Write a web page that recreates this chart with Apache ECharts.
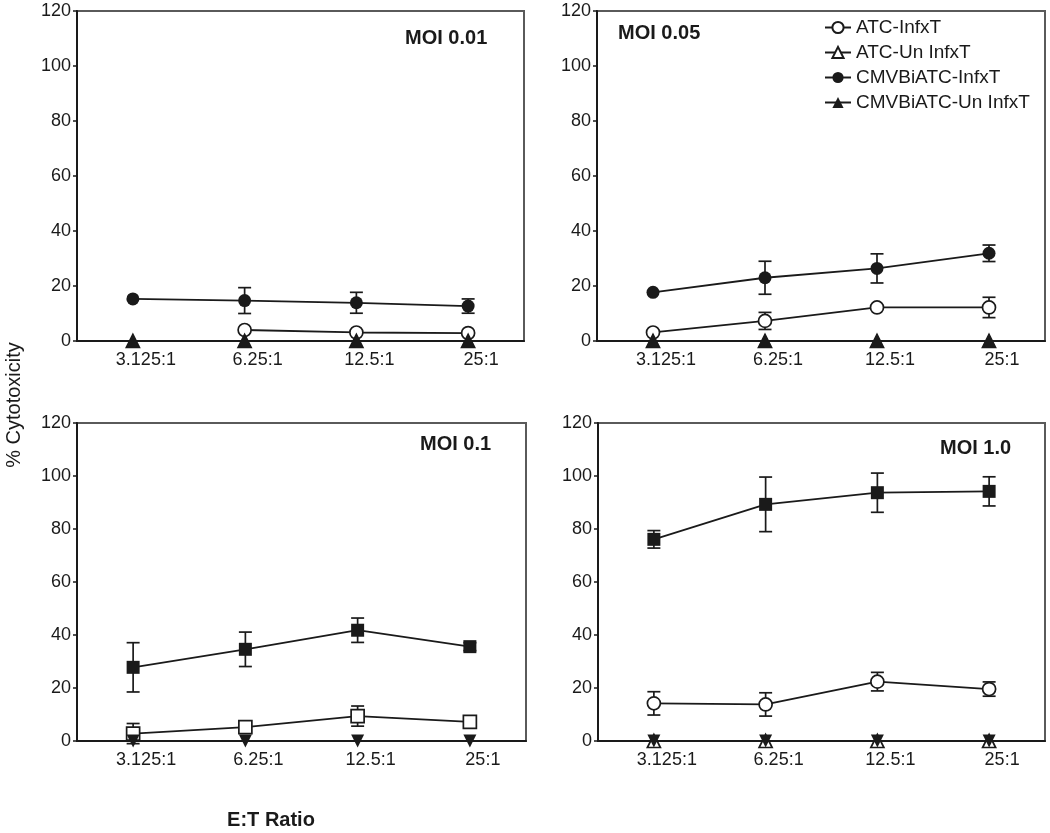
<!DOCTYPE html>
<html>
<head>
<meta charset="utf-8">
<script src="https://cdn.jsdelivr.net/npm/echarts@6/dist/echarts.min.js"></script>
<style>html,body{margin:0;padding:0;background:#fff;}#c{width:1050px;height:833px;}</style>
</head>
<body>
<div id="c"></div>
<script>
// ---- data ----
var categories = ['3.125:1', '6.25:1', '12.5:1', '25:1'];
var yTicks = [0, 20, 40, 60, 80, 100, 120];
var panelTitles = ['MOI 0.01', 'MOI 0.05', 'MOI 0.1', 'MOI 1.0'];
var seriesNames = ['ATC-InfxT', 'ATC-Un InfxT', 'CMVBiATC-InfxT', 'CMVBiATC-Un InfxT'];

// MOI 0.01
var p1_atcInf = [null, 4.0, 3.1, 2.9];
var p1_atcInfSd = [0, 0, 0, 0];
var p1_atcUn = [0, 0, 0, 0];
var p1_cmvInf = [15.3, 14.7, 13.9, 12.7];
var p1_cmvInfSd = [0, 4.7, 3.8, 2.6];
var p1_cmvUn = [0, 0, 0, 0];

// MOI 0.05
var p2_atcInf = [3.1, 7.3, 12.2, 12.2];
var p2_atcInfSd = [0, 3.1, 0, 3.7];
var p2_atcUn = [0, 0, 0, 0];
var p2_cmvInf = [17.7, 23.0, 26.4, 31.9];
var p2_cmvInfSd = [0, 6.0, 5.3, 3.0];
var p2_cmvUn = [0, 0, 0, 0];

// MOI 0.1
var p3_atcInf = [2.8, 5.2, 9.4, 7.2];
var p3_atcInfSd = [3.8, 1.5, 3.8, 0];
var p3_cmvInf = [27.8, 34.6, 41.8, 35.6];
var p3_cmvInfSd = [9.3, 6.5, 4.6, 1.5];
var p3_cmvUn = [0, 0, 0, 0];

// MOI 1.0
var p4_atcInf = [14.2, 13.8, 22.4, 19.6];
var p4_atcInfSd = [4.4, 4.4, 3.5, 2.7];
var p4_atcUn = [0, 0, 0, 0];
var p4_cmvInf = [76.1, 89.3, 93.7, 94.2];
var p4_cmvInfSd = [3.3, 10.3, 7.4, 5.5];
var p4_cmvUn = [0, 0, 0, 0];

// ---- chart ----
var FONT = '"Liberation Sans", Arial, Helvetica, sans-serif';
var INK = '#1a1a1a';
var chart = echarts.init(document.getElementById('c'), null, {renderer: 'canvas'});

var grids = [
  {left: 77, top: 11, width: 447, height: 330},
  {left: 597, top: 11, width: 448, height: 330},
  {left: 77, top: 423, width: 449, height: 318},
  {left: 598, top: 423, width: 447, height: 318}
];

var xAxes = [], yAxes = [];
grids.forEach(function (g, i) {
  g.show = true;
  g.borderColor = '#5a5a5a';
  g.borderWidth = 2;
  g.backgroundColor = '#fff';
  xAxes.push({
    type: 'category', gridIndex: i, data: categories, boundaryGap: true,
    axisLine: {lineStyle: {color: INK, width: 2}},
    axisTick: {show: false},
    axisLabel: {color: INK, fontSize: 18, fontFamily: FONT, margin: 10, padding: [0, 0, 0, 26], interval: 0},
    splitLine: {show: false}
  });
  yAxes.push({
    type: 'value', gridIndex: i, min: yTicks[0], max: yTicks[yTicks.length - 1], interval: yTicks[1] - yTicks[0],
    axisLine: {show: true, lineStyle: {color: INK, width: 2}},
    axisTick: {show: true, length: 4, lineStyle: {color: INK, width: 1.5}},
    axisLabel: {color: INK, fontSize: 18, fontFamily: FONT, margin: 6},
    splitLine: {show: false}
  });
});

function lineSeries(name, data, gi, symbol, filled, rotate, z) {
  return {
    name: name, type: 'line', xAxisIndex: gi, yAxisIndex: gi, data: data,
    symbol: symbol, symbolSize: 13, symbolRotate: rotate || 0, showSymbol: true,
    connectNulls: false,
    lineStyle: {color: INK, width: 1.8},
    itemStyle: {color: filled ? INK : '#fff', borderColor: INK, borderWidth: filled ? 0 : 1.7},
    z: z || 3, animation: false
  };
}

function errSeries(mean, sd, gi) {
  var d = [];
  mean.forEach(function (m, k) {
    if (m !== null && sd[k] > 0) d.push([k, m - sd[k], m + sd[k]]);
  });
  return {
    type: 'custom', xAxisIndex: gi, yAxisIndex: gi, data: d, z: 2, animation: false,
    renderItem: function (params, api) {
      var x = api.value(0);
      var lo = api.coord([x, api.value(1)]);
      var hi = api.coord([x, api.value(2)]);
      var w = 6.5;
      var st = {stroke: INK, lineWidth: 1.7, fill: null};
      return {type: 'group', children: [
        {type: 'line', shape: {x1: lo[0], y1: lo[1], x2: hi[0], y2: hi[1]}, style: st},
        {type: 'line', shape: {x1: lo[0] - w, y1: lo[1], x2: lo[0] + w, y2: lo[1]}, style: st},
        {type: 'line', shape: {x1: hi[0] - w, y1: hi[1], x2: hi[0] + w, y2: hi[1]}, style: st}
      ]};
    }
  };
}

var series = [
  // Panel 1
  lineSeries(seriesNames[0], p1_atcInf, 0, 'circle', false),
  errSeries(p1_atcInf, p1_atcInfSd, 0),
  lineSeries(seriesNames[1], p1_atcUn, 0, 'triangle', false),
  lineSeries(seriesNames[2], p1_cmvInf, 0, 'circle', true),
  errSeries(p1_cmvInf, p1_cmvInfSd, 0),
  lineSeries(seriesNames[3], p1_cmvUn, 0, 'triangle', true, 0, 4),
  // Panel 2
  lineSeries(seriesNames[0], p2_atcInf, 1, 'circle', false),
  errSeries(p2_atcInf, p2_atcInfSd, 1),
  lineSeries(seriesNames[1], p2_atcUn, 1, 'triangle', false),
  lineSeries(seriesNames[2], p2_cmvInf, 1, 'circle', true),
  errSeries(p2_cmvInf, p2_cmvInfSd, 1),
  lineSeries(seriesNames[3], p2_cmvUn, 1, 'triangle', true, 0, 4),
  // Panel 3
  lineSeries(seriesNames[0], p3_atcInf, 2, 'rect', false),
  errSeries(p3_atcInf, p3_atcInfSd, 2),
  lineSeries(seriesNames[2], p3_cmvInf, 2, 'rect', true),
  errSeries(p3_cmvInf, p3_cmvInfSd, 2),
  lineSeries(seriesNames[3], p3_cmvUn, 2, 'triangle', true, 180, 4),
  // Panel 4
  lineSeries(seriesNames[0], p4_atcInf, 3, 'circle', false),
  errSeries(p4_atcInf, p4_atcInfSd, 3),
  lineSeries(seriesNames[1], p4_atcUn, 3, 'triangle', false),
  lineSeries(seriesNames[2], p4_cmvInf, 3, 'rect', true),
  errSeries(p4_cmvInf, p4_cmvInfSd, 3),
  lineSeries(seriesNames[3], p4_cmvUn, 3, 'triangle', true, 180, 4)
];

var titleStyle = {fontSize: 20, fontWeight: 'bold', color: INK, fontFamily: FONT};
var titles = [
  {text: panelTitles[0], left: 405, top: 28, textStyle: titleStyle, padding: 0},
  {text: panelTitles[1], left: 618, top: 23, textStyle: titleStyle, padding: 0},
  {text: panelTitles[2], left: 420, top: 434, textStyle: titleStyle, padding: 0},
  {text: panelTitles[3], left: 940, top: 438, textStyle: titleStyle, padding: 0}
];

chart.setOption({
  animation: false,
  backgroundColor: '#fff',
  title: titles,
  grid: grids,
  xAxis: xAxes,
  yAxis: yAxes,
  legend: {
    data: seriesNames, orient: 'vertical', left: 824, top: 17,
    itemWidth: 26, itemHeight: 14, itemGap: 4, padding: 0,
    textStyle: {fontSize: 19, color: INK, fontFamily: FONT, lineHeight: 21},
    selectedMode: false
  },
  graphic: [
    {type: 'text', x: 14, y: 405, rotation: Math.PI / 2,
     style: {text: '% Cytotoxicity', fontSize: 20, fontFamily: FONT, fill: INK, textAlign: 'center', textVerticalAlign: 'middle'}},
    {type: 'text', x: 271, y: 820,
     style: {text: 'E:T Ratio', fontSize: 20, fontWeight: 'bold', fontFamily: FONT, fill: INK, textAlign: 'center', textVerticalAlign: 'middle'}}
  ],
  series: series
});
</script>
</body>
</html>
